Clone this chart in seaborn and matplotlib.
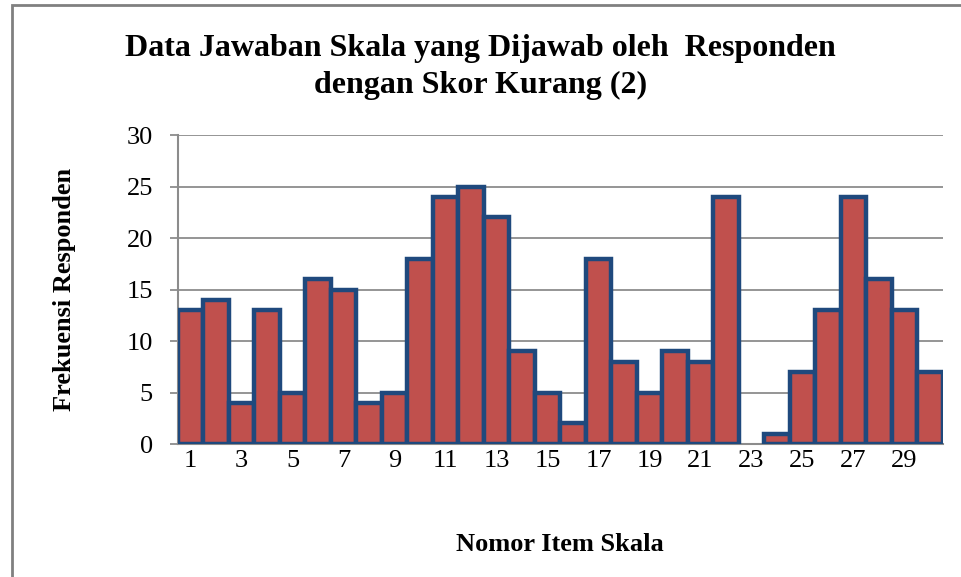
import matplotlib
matplotlib.use("Agg")
import matplotlib.pyplot as plt
import seaborn as sns
import pandas as pd
from matplotlib.patches import Rectangle

# data
items = list(range(1, 31))
frekuensi = [13, 14, 4, 13, 5, 16, 15, 4, 5, 18, 24, 25, 22, 9, 5, 2,
             18, 8, 5, 9, 8, 24, 0, 1, 7, 13, 24, 16, 13, 7]
tick_labels = [str(i) if i % 2 == 1 else "" for i in items]

df = pd.DataFrame({"item": items, "frekuensi": frekuensi})

sns.set_style("white")
plt.rcParams["font.family"] = ["Liberation Serif", "DejaVu Serif"]
plt.rcParams["text.color"] = "black"
plt.rcParams["axes.labelcolor"] = "black"

fig = plt.figure(figsize=(9.61, 5.77), dpi=100)
ax = fig.add_axes([0.185, 0.2305, 0.796, 0.5355])

sns.barplot(data=df, x="item", y="frekuensi", color="#C0504D", saturation=1,
            width=1.0, edgecolor="#1F497D", linewidth=3.2, ax=ax, zorder=3)

# empty bar (item 23) shows no outline in the reference
for p in ax.patches:
    if p.get_height() == 0:
        p.set_visible(False)

ax.set_ylim(0, 30)
ax.set_xlim(-0.5, 29.5)
ax.set_yticks(range(0, 31, 5))
ax.yaxis.grid(True, color="#8C8C8C", linewidth=1.3, zorder=0)
ax.set_axisbelow(True)
ax.set_xticks(range(30))
ax.set_xticklabels(tick_labels)
ax.tick_params(axis="x", length=0, pad=4, labelsize=19, labelcolor="black")
ax.tick_params(axis="y", length=6, width=1.3, color="#8C8C8C", pad=12, labelsize=19,
               labelcolor="black", left=True)

for side in ["top", "right"]:
    ax.spines[side].set_visible(False)
for side in ["left", "bottom"]:
    ax.spines[side].set_color("#8C8C8C")
    ax.spines[side].set_linewidth(1.5)

ax.set_xlabel("Nomor Item Skala", fontsize=19, fontweight="bold", labelpad=44)
ax.set_ylabel("Frekuensi Responden", fontsize=19, fontweight="bold", labelpad=36)

fig.text(0.5, 0.884, "Data Jawaban Skala yang Dijawab oleh  Responden\ndengan Skor Kurang (2)",
         ha="center", va="center", fontsize=23, fontweight="bold", linespacing=1.32)

# page frame visible at top and left in the reference
fig.add_artist(Rectangle((0.013, -0.05), 1.1, 1.041, transform=fig.transFigure,
                         fill=False, edgecolor="#808080", linewidth=2))

fig.savefig("out.png", dpi=100)
